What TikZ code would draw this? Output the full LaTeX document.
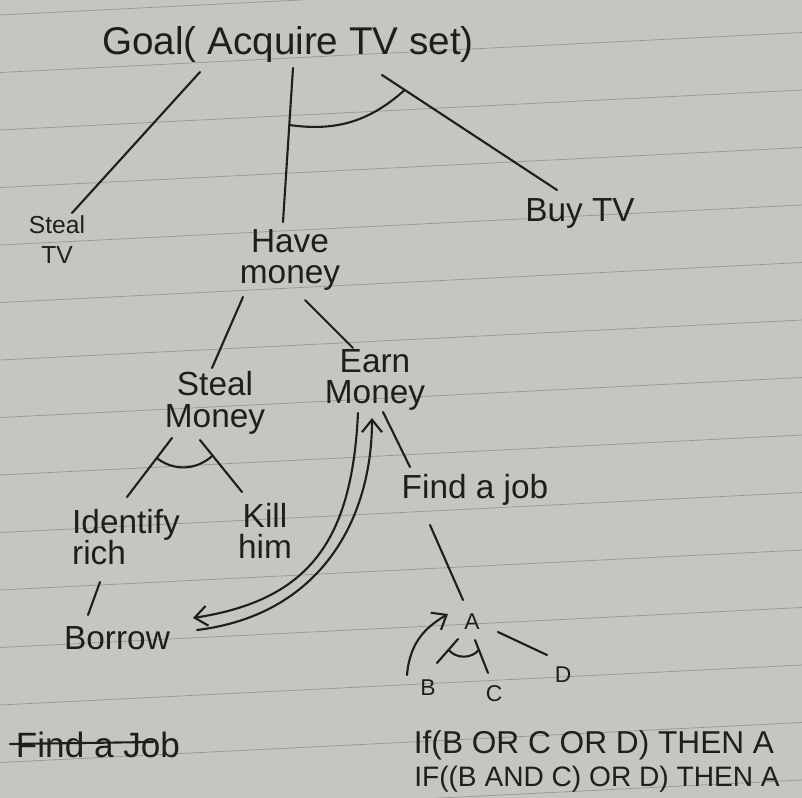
\documentclass[tikz,border=0pt]{standalone}
\usepackage{fontspec}
\setmainfont{Liberation Sans}
\usetikzlibrary{calc,arrows.meta}
\definecolor{paper}{RGB}{198,198,192}
\definecolor{ruleline}{RGB}{150,150,146}
\definecolor{ink}{RGB}{30,30,30}

\begin{document}
\begin{tikzpicture}[x=0.02cm, y=-0.02cm, very thick, color=ink, line cap=round,
  >={Straight Barb[length=2.5mm,width=4mm]}, % 手書き風の矢印
  lbl/.style={font=\fontsize{19}{18}\selectfont, align=center, inner sep=1pt},
  letter/.style={font=\fontsize{13}{14}\selectfont, inner sep=1pt},
  rulelbl/.style={inner sep=1pt}]
  \fill[paper] (0,0) rectangle (802,798); % 紙
  \useasboundingbox (0,0) rectangle (802,798);
  \foreach \i in {0,...,14}
    \draw[ruleline, thin] (0,{15+57.5*\i}) -- (802,{-25+57.5*\i}); % 罫線

  % ノード
  \node[lbl, font=\fontsize{22}{24}\selectfont] (goal) at (288,45) {Goal( Acquire TV set)};
  \node[lbl, font=\fontsize{14}{17}\selectfont] (stealtv) at (57,240) {Steal\\TV};
  \node[lbl] (havemoney) at (290,260) {Have\\money};
  \node[lbl] (buytv) at (580,213) {Buy TV};
  \node[lbl] (stealmoney) at (215,403) {Steal\\Money};
  \node[lbl] (earnmoney) at (375,380) {Earn\\Money};
  \node[lbl] (findjob) at (475,490) {Find a job};
  \node[lbl, align=left] (identify) at (126,537) {Identify\\rich};
  \node[lbl] (kill) at (265,531) {Kill\\him};
  \node[lbl] (borrow) at (117,638) {Borrow};
  \node[letter] (a) at (472,622) {A};
  \node[letter] (b) at (428,688) {B};
  \node[letter] (c) at (494,694) {C};
  \node[letter] (d) at (563,675) {D};
  \node[lbl, font=\fontsize{20}{20}\selectfont] (oldjob) at (98,745) {Find a Job};
  \node[rulelbl, font=\fontsize{18}{18}\selectfont] (rule1) at (594,745) {If(B OR C OR D) THEN A};
  \node[rulelbl, font=\fontsize{16}{18}\selectfont] (rule2) at (597,779) {IF((B AND C) OR D) THEN A};

  % 枝
  \draw ($(goal)+(-88,27)$) -- ($(stealtv)+(15,-27)$);
  \draw ($(goal)+(5,23)$) -- coordinate[pos=0.37] (and1) ($(havemoney)+(-7,-38)$);
  \draw ($(goal)+(94,30)$) -- coordinate[pos=0.13] (and2) ($(buytv)+(-23,-23)$);
  \draw (and1) to[bend right=25] (and2); % AND
  \draw ($(havemoney)+(-47,37)$) -- ($(stealmoney)+(-3,-35)$);
  \draw ($(havemoney)+(15,40)$) -- ($(earnmoney)+(-22,-32)$);
  \draw ($(stealmoney)+(-43,35)$) -- coordinate[pos=0.34] (and3) ($(identify)+(1,-40)$);
  \draw ($(stealmoney)+(-15,37)$) -- coordinate[pos=0.3] (and4) ($(kill)+(-23,-39)$);
  \draw (and3) to[bend right=40] (and4); % AND
  \draw ($(identify)+(-26,45)$) -- ($(borrow)+(-29,-23)$);
  \draw ($(earnmoney)+(8,32)$) -- ($(findjob)+(-65,-23)$);
  \draw[->] ($(earnmoney)+(-17,33)$) .. controls +(-6,127) and +(117,-18) .. ($(borrow)+(76,-20)$);
  \draw[->] ($(borrow)+(80,-8)$) .. controls +(123,-15) and +(0,102) .. ($(earnmoney)+(-3,38)$);
  \draw ($(findjob)+(-45,35)$) -- ($(a)+(-9,-22)$);
  \draw[->] ($(b)+(-21,-13)$) .. controls +(3,-35) and +(-20,12) .. ($(a)+(-24,-8)$);
  \draw ($(a)+(-14,17)$) -- coordinate[pos=0.45] (and5) ($(b)+(9,-25)$);
  \draw ($(a)+(3,18)$) -- coordinate[pos=0.3] (and6) ($(c)+(-6,-21)$);
  \draw (and5) to[bend right=50] (and6); % AND
  \draw ($(a)+(26,10)$) -- ($(d)+(-16,-20)$);
  \draw ($(oldjob)+(-88,-1)$) -- ($(oldjob)+(55,-3)$); % 取り消し線
\end{tikzpicture}
\end{document}
